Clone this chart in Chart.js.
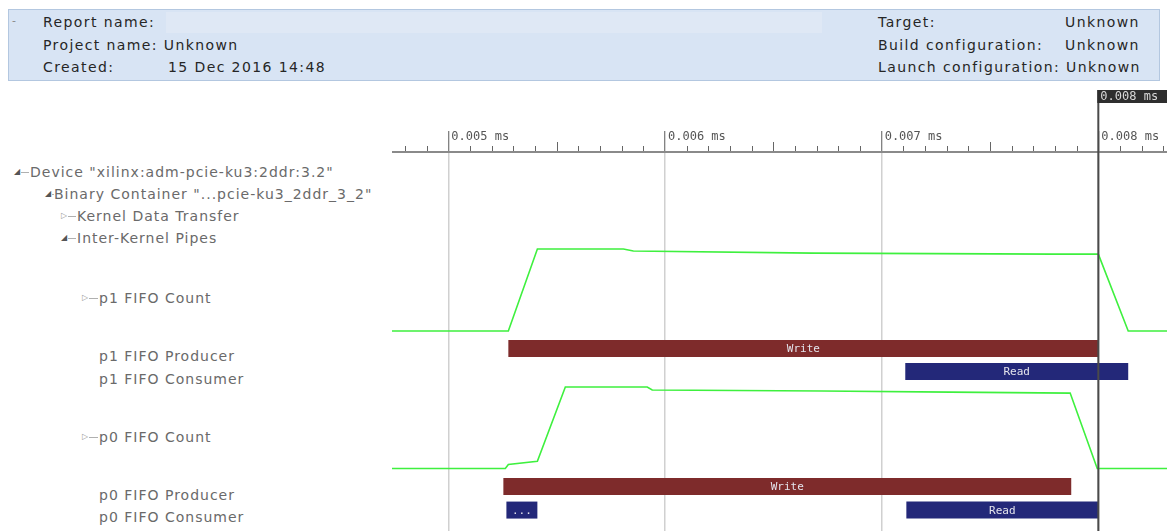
<!DOCTYPE html>
<html>
<head>
<meta charset="utf-8">
<title>Timeline trace</title>
<script src="https://cdn.jsdelivr.net/npm/chart.js@4.4.0/dist/chart.umd.min.js"></script>
<style>
  html, body { margin: 0; padding: 0; background: #fff; }
  body { width: 1167px; height: 531px; position: relative; overflow: hidden; font-family: "DejaVu Sans", sans-serif; }
  #header { position: absolute; left: 8px; top: 9px; width: 1150px; height: 70px; background: #d8e4f4; border: 1px solid #b3c7e0; }
  #nameband { position: absolute; left: 157px; top: 2px; width: 656px; height: 21px; background: #dfe8f5; }
  .h { position: absolute; font-size: 14px; color: #262626; white-space: pre; line-height: 16px; letter-spacing: 1.4px; }
  .n { position: absolute; font-size: 14px; color: #6a6a6a; white-space: pre; line-height: 16px; letter-spacing: 1px; }
  .ic { position: absolute; font-size: 8px; color: #555; line-height: 10px; }
  .ln { position: absolute; height: 1px; background: #b0b0b0; }
  #chartBox { position: absolute; left: 392px; top: 88px; width: 775px; height: 443px; }
</style>
</head>
<body>

<div id="header"><div id="nameband"></div></div>
<div class="h" style="left:12px;top:13px;color:#888;font-size:11px">-</div>
<div class="h" style="left:43px;top:14px">Report name:</div>
<div class="h" style="left:43px;top:37px">Project name: Unknown</div>
<div class="h" style="left:43px;top:59px">Created:</div>
<div class="h" style="left:168px;top:59px">15 Dec 2016 14:48</div>
<div class="h" style="left:878px;top:14px">Target:</div>
<div class="h" style="left:1065px;top:14px">Unknown</div>
<div class="h" style="left:878px;top:37px">Build configuration:</div>
<div class="h" style="left:1065px;top:37px">Unknown</div>
<div class="h" style="left:878px;top:59px">Launch configuration: Unknown</div>

<div id="tree">
  <div class="ic" style="left:14px;top:167px">◢</div><div class="ln" style="left:21px;top:172px;width:8px"></div>
  <div class="n" style="left:30px;top:164px">Device "xilinx:adm-pcie-ku3:2ddr:3.2"</div>
  <div class="ic" style="left:45px;top:189px">◢</div><div class="ln" style="left:52px;top:194px;width:2px"></div>
  <div class="n" style="left:54px;top:186px">Binary Container "...pcie-ku3_2ddr_3_2"</div>
  <div class="ic" style="left:61px;top:211px;color:#999">▷</div><div class="ln" style="left:68px;top:216px;width:8px"></div>
  <div class="n" style="left:77px;top:208px">Kernel Data Transfer</div>
  <div class="ic" style="left:61px;top:233px">◢</div><div class="ln" style="left:68px;top:238px;width:8px"></div>
  <div class="n" style="left:77px;top:230px">Inter-Kernel Pipes</div>
  <div class="ic" style="left:82px;top:293px;color:#999">▷</div><div class="ln" style="left:89px;top:298px;width:9px"></div>
  <div class="n" style="left:99px;top:290px">p1 FIFO Count</div>
  <div class="n" style="left:99px;top:348px">p1 FIFO Producer</div>
  <div class="n" style="left:99px;top:371px">p1 FIFO Consumer</div>
  <div class="ic" style="left:82px;top:432px;color:#999">▷</div><div class="ln" style="left:89px;top:437px;width:9px"></div>
  <div class="n" style="left:99px;top:429px">p0 FIFO Count</div>
  <div class="n" style="left:99px;top:487px">p0 FIFO Producer</div>
  <div class="n" style="left:99px;top:509px">p0 FIFO Consumer</div>
</div>

<div id="chartBox"><canvas id="timeline"></canvas></div>

<script>
// time axis (ms)
const timeMin = 0.00474;
const timeMax = 0.008317;
const majorTicks = [0.005, 0.006, 0.007, 0.008];
const minorStep = 0.0001;
const cursorTime = 0.008;

// FIFO count samples
const p1CountTime  = [0.00474, 0.005277, 0.005411, 0.005808, 0.005854, 0.006684, 0.007792, 0.008000, 0.008138, 0.008317];
const p1CountValue = [0, 0, 16, 16, 15.6, 15.2, 15, 15, 0, 0];
const p0CountTime  = [0.00474, 0.005263, 0.005277, 0.005411, 0.005540, 0.005918, 0.005941, 0.006726, 0.007317, 0.007870, 0.007995, 0.008317];
const p0CountValue = [0, 0, 0.8, 1.4, 16, 16, 15.4, 15.2, 15, 14.8, 0, 0];

// producer / consumer events
const eventPipe  = ['p1', 'p1', 'p0', 'p0', 'p0'];
const eventRole  = ['Producer', 'Consumer', 'Producer', 'Consumer', 'Consumer'];
const eventLabel = ['Write', 'Read', 'Write', '...', 'Read'];
const eventStart = [0.005277, 0.007109, 0.005254, 0.005268, 0.007114];
const eventEnd   = [0.008000, 0.008138, 0.007875, 0.005411, 0.008000];

const roleLane = { Producer: 0, Consumer: 1 };
const labelColor = { Write: '#7e2b2b', Read: '#232879', '...': '#232879' };

const countDatasets = [
  { id: 'p1', t: p1CountTime, v: p1CountValue },
  { id: 'p0', t: p0CountTime, v: p0CountValue }
].map(c => ({
  label: c.id + ' FIFO Count',
  data: c.t.map((t, i) => ({ x: t, y: c.v[i] })),
  yAxisID: 'yCount_' + c.id,
  borderColor: '#3ef03e',
  borderWidth: 1.6,
  pointRadius: 0,
  tension: 0
}));

const eventDatasets = eventLabel.map((lab, i) => ({
  label: eventPipe[i] + ' FIFO ' + eventRole[i],
  eventLabel: lab,
  data: [
    { x: eventStart[i], y: roleLane[eventRole[i]] },
    { x: eventEnd[i], y: roleLane[eventRole[i]] }
  ],
  yAxisID: 'yLane_' + eventPipe[i],
  borderColor: labelColor[lab],
  borderWidth: 17,
  borderCapStyle: 'butt',
  pointRadius: 0
}));

const timelinePlugin = {
  id: 'timeline',
  afterDatasetsDraw(chart) {
    const ctx = chart.ctx;
    chart.data.datasets.forEach((ds, i) => {
      if (!ds.eventLabel) return;
      const pts = chart.getDatasetMeta(i).data;
      ctx.save();
      ctx.font = '11px "DejaVu Sans Mono"';
      ctx.fillStyle = '#e4e4ec';
      ctx.textAlign = 'center';
      ctx.textBaseline = 'middle';
      ctx.fillText(ds.eventLabel, (pts[0].x + pts[1].x) / 2, pts[0].y + 1);
      ctx.restore();
    });
  },
  afterDraw(chart) {
    const ctx = chart.ctx;
    const x = chart.scales.x;
    const top = chart.chartArea.top;
    ctx.save();
    // minor ruler ticks
    ctx.strokeStyle = '#666';
    ctx.lineWidth = 1;
    const n0 = Math.ceil(timeMin / minorStep), n1 = Math.floor(timeMax / minorStep);
    for (let n = n0; n <= n1; n++) {
      if (n % 10 === 0) continue;
      const px = Math.round(x.getPixelForValue(n * minorStep)) + 0.5;
      const len = n % 10 === 5 ? 9 : 5;
      ctx.beginPath();
      ctx.moveTo(px, top - 1);
      ctx.lineTo(px, top - 1 - len);
      ctx.stroke();
    }
    // time cursor
    const cx = x.getPixelForValue(cursorTime);
    ctx.strokeStyle = '#4a4a4a';
    ctx.lineWidth = 2;
    ctx.beginPath();
    ctx.moveTo(cx, 2);
    ctx.lineTo(cx, chart.height);
    ctx.stroke();
    ctx.fillStyle = '#2e2e2e';
    ctx.fillRect(cx - 1, 2, 80, 13);
    ctx.fillStyle = '#d8d8d8';
    ctx.font = '12px "DejaVu Sans Mono"';
    ctx.textBaseline = 'middle';
    ctx.fillText(cursorTime.toFixed(3) + ' ms', cx + 2, 9);
    ctx.restore();
  }
};

new Chart(document.getElementById('timeline'), {
  type: 'line',
  data: { datasets: countDatasets.concat(eventDatasets) },
  options: {
    responsive: true,
    maintainAspectRatio: false,
    animation: false,
    events: [],
    layout: { padding: 0 },
    plugins: { legend: { display: false }, tooltip: { enabled: false } },
    scales: {
      x: {
        type: 'linear',
        position: 'top',
        min: timeMin,
        max: timeMax,
        z: 1,
        afterBuildTicks: s => { s.ticks = majorTicks.map(v => ({ value: v })); },
        afterFit: s => { s.height = 64; },
        grid: { color: 'rgba(170,170,170,0.55)', lineWidth: 1.5, tickColor: '#5a5a5a', tickLength: 21, tickWidth: 1 },
        border: { color: '#8a8a8a', width: 2 },
        ticks: {
          align: 'start',
          labelOffset: 3,
          padding: -13,
          color: '#555',
          font: { family: 'DejaVu Sans Mono', size: 12 },
          callback: v => v.toFixed(3) + ' ms'
        }
      },
      yCount_p1: { axis: 'y', type: 'linear', display: false, min: -39.02, max: 34.93 },
      yCount_p0: { axis: 'y', type: 'linear', display: false, min: -12.27, max: 62.13 },
      yLane_p1: { axis: 'y', type: 'linear', display: false, reverse: true, min: -8.54, max: 7.93 },
      yLane_p0: { axis: 'y', type: 'linear', display: false, reverse: true, min: -14.23, max: 1.89 }
    }
  },
  plugins: [timelinePlugin]
});
</script>
</body>
</html>
